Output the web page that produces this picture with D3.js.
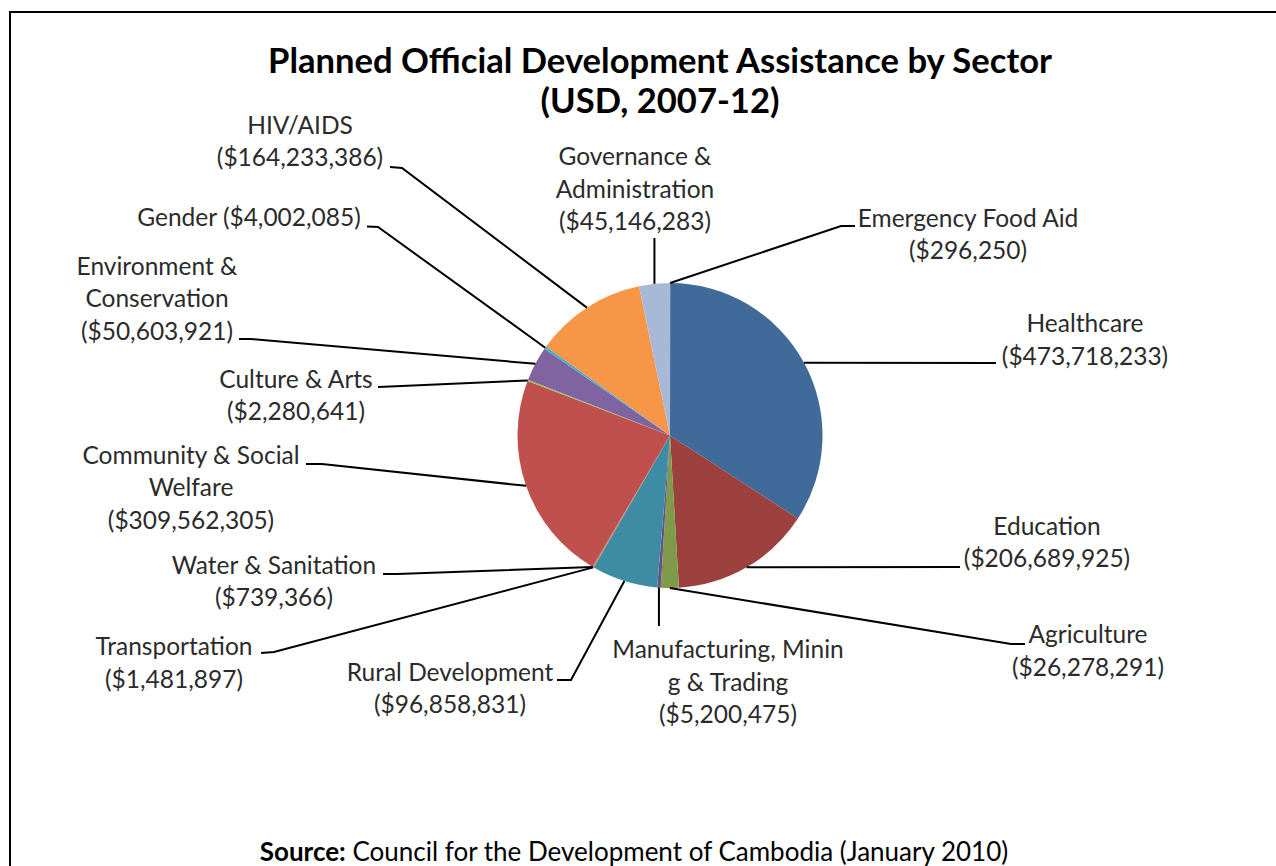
<!DOCTYPE html>
<html>
<head>
<meta charset="utf-8">
<script src="https://cdn.jsdelivr.net/npm/d3@7"></script>
<style>
  html, body { margin: 0; padding: 0; background: #fff; }
  svg { display: block; }
  text { font-family: "Lato", "Open Sans", sans-serif; }
</style>
</head>
<body>
<svg id="chart" width="1276" height="866"></svg>
<script>
// Planned ODA by sector, 2007-12 (USD), in clockwise order from 12 o'clock
const sectors = [
  "Emergency Food Aid",
  "Healthcare",
  "Education",
  "Agriculture",
  "Manufacturing, Mining & Trading",
  "Rural Development",
  "Transportation",
  "Water & Sanitation",
  "Community & Social Welfare",
  "Culture & Arts",
  "Environment & Conservation",
  "Gender",
  "HIV/AIDS",
  "Governance & Administration"
];
const amounts = [
  296250, 473718233, 206689925, 26278291, 5200475, 96858831, 1481897,
  739366, 309562305, 2280641, 50603921, 4002085, 164233386, 45146283
];
const sliceColors = [
  "#D99694", "#3F6A9A", "#9D413E", "#7F9A48", "#69528A", "#3D8CA4", "#CB7B39",
  "#4F81BD", "#C0504D", "#9BBB59", "#8064A2", "#4BACC6", "#F79646", "#A8B9D8"
];
const titleLines = ["Planned Official Development Assistance by Sector", "(USD, 2007-12)"];
const sourceLabel = "Source:";
const sourceText = " Council for the Development of Cambodia (January 2010)";

// Label placement: text centre x, first baseline y, where the name wraps,
// and the leader path from the label towards the slice edge.
const labelLayout = [
  { x: 968,  y: 226.5, breaks: [],   leader: [[855, 226], [841, 226]] },
  { x: 1085, y: 332,   breaks: [],   leader: [[996, 363]] },
  { x: 1047, y: 534.5, breaks: [],   leader: [[960, 567]] },
  { x: 1088, y: 643,   breaks: [],   leader: [[1025, 644], [1011, 644]] },
  { x: 728,  y: 658,   breaks: [20], vertical: 626 },
  { x: 450,  y: 680.5, breaks: [],   leader: [[557, 680], [571, 680]] },
  { x: 174,  y: 655,   breaks: [],   leader: [[261, 653], [274, 652]] },
  { x: 274,  y: 573.5, breaks: [],   leader: [[383, 574], [397, 574]] },
  { x: 191,  y: 463.5, breaks: [18], leader: [[306, 464], [322, 464]] },
  { x: 296,  y: 387.5, breaks: [],   leader: [[378, 387], [390, 386.5]] },
  { x: 157,  y: 274.5, breaks: [13], leader: [[239, 339], [251, 339]] },
  { x: 249,  y: 226,   breaks: [],   inline: true, leader: [[367, 226.5], [378, 227]] },
  { x: 300,  y: 133.5, breaks: [],   leader: [[390, 167], [402, 168]] },
  { x: 635,  y: 165,   breaks: [12], vertical: 238 }
];

const W = 1276, H = 866;
const cx = 670, cy = 435.5, radius = 152.5;
const lineH = 32.5;
const money = d3.format("$,");

const svg = d3.select("#chart");

// frame
svg.append("path")
  .attr("d", `M10,${H} V12 H${W}`)
  .attr("fill", "none")
  .attr("stroke", "#000")
  .attr("stroke-width", 2);

// title
svg.append("text")
  .attr("x", 660).attr("y", 72.5)
  .attr("text-anchor", "middle")
  .attr("font-size", 34.6).attr("font-weight", 700).attr("fill", "#000")
  .selectAll("tspan").data(titleLines).join("tspan")
  .attr("x", 660).attr("dy", (d, i) => i === 0 ? 0 : 40)
  .text(d => d);

const data = sectors.map((name, i) => ({ name, value: amounts[i], color: sliceColors[i], layout: labelLayout[i] }));

const pie = d3.pie().sort(null).value(d => d.value).startAngle(0).endAngle(2 * Math.PI);
const arcs = pie(data);
const arc = d3.arc().innerRadius(0).outerRadius(radius);
const rim = d3.arc().innerRadius(radius).outerRadius(radius);

const g = svg.append("g").attr("transform", `translate(${cx},${cy})`);

g.selectAll("path.slice").data(arcs).join("path")
  .attr("class", "slice")
  .attr("d", arc)
  .attr("fill", d => d.data.color);

// leader lines
const line = d3.line();
svg.append("g").selectAll("path.leader").data(arcs).join("path")
  .attr("class", "leader")
  .attr("fill", "none")
  .attr("stroke", "#000")
  .attr("stroke-width", 2)
  .attr("d", d => {
    const [px, py] = rim.centroid(d);
    const edge = [cx + px, cy + py];
    const L = d.data.layout;
    const pts = L.vertical !== undefined ? [[edge[0], L.vertical]] : L.leader.slice();
    pts.push(edge);
    return line(pts);
  });

// labels
const labels = svg.append("g")
  .attr("font-size", 24.5)
  .attr("fill", "#2b2b2b")
  .attr("text-anchor", "middle");

arcs.forEach(d => {
  const L = d.data.layout;
  const name = d.data.name;
  const valueText = "(" + money(d.data.value) + ")";
  let lines = [];
  let start = 0;
  L.breaks.forEach(b => { lines.push(name.slice(start, b).trim()); start = b; });
  lines.push(name.slice(start).trim());
  if (L.inline) lines[lines.length - 1] += " " + valueText;
  else lines.push(valueText);
  const t = labels.append("text").attr("x", L.x).attr("y", L.y);
  lines.forEach((s, i) => {
    t.append("tspan").attr("x", L.x).attr("dy", i === 0 ? 0 : lineH).text(s);
  });
});

// source note
const src = svg.append("text")
  .attr("x", 634).attr("y", 861)
  .attr("text-anchor", "middle")
  .attr("font-size", 26)
  .attr("fill", "#000");
src.append("tspan").attr("font-weight", 700).text(sourceLabel);
src.append("tspan").text(sourceText);
</script>
</body>
</html>
